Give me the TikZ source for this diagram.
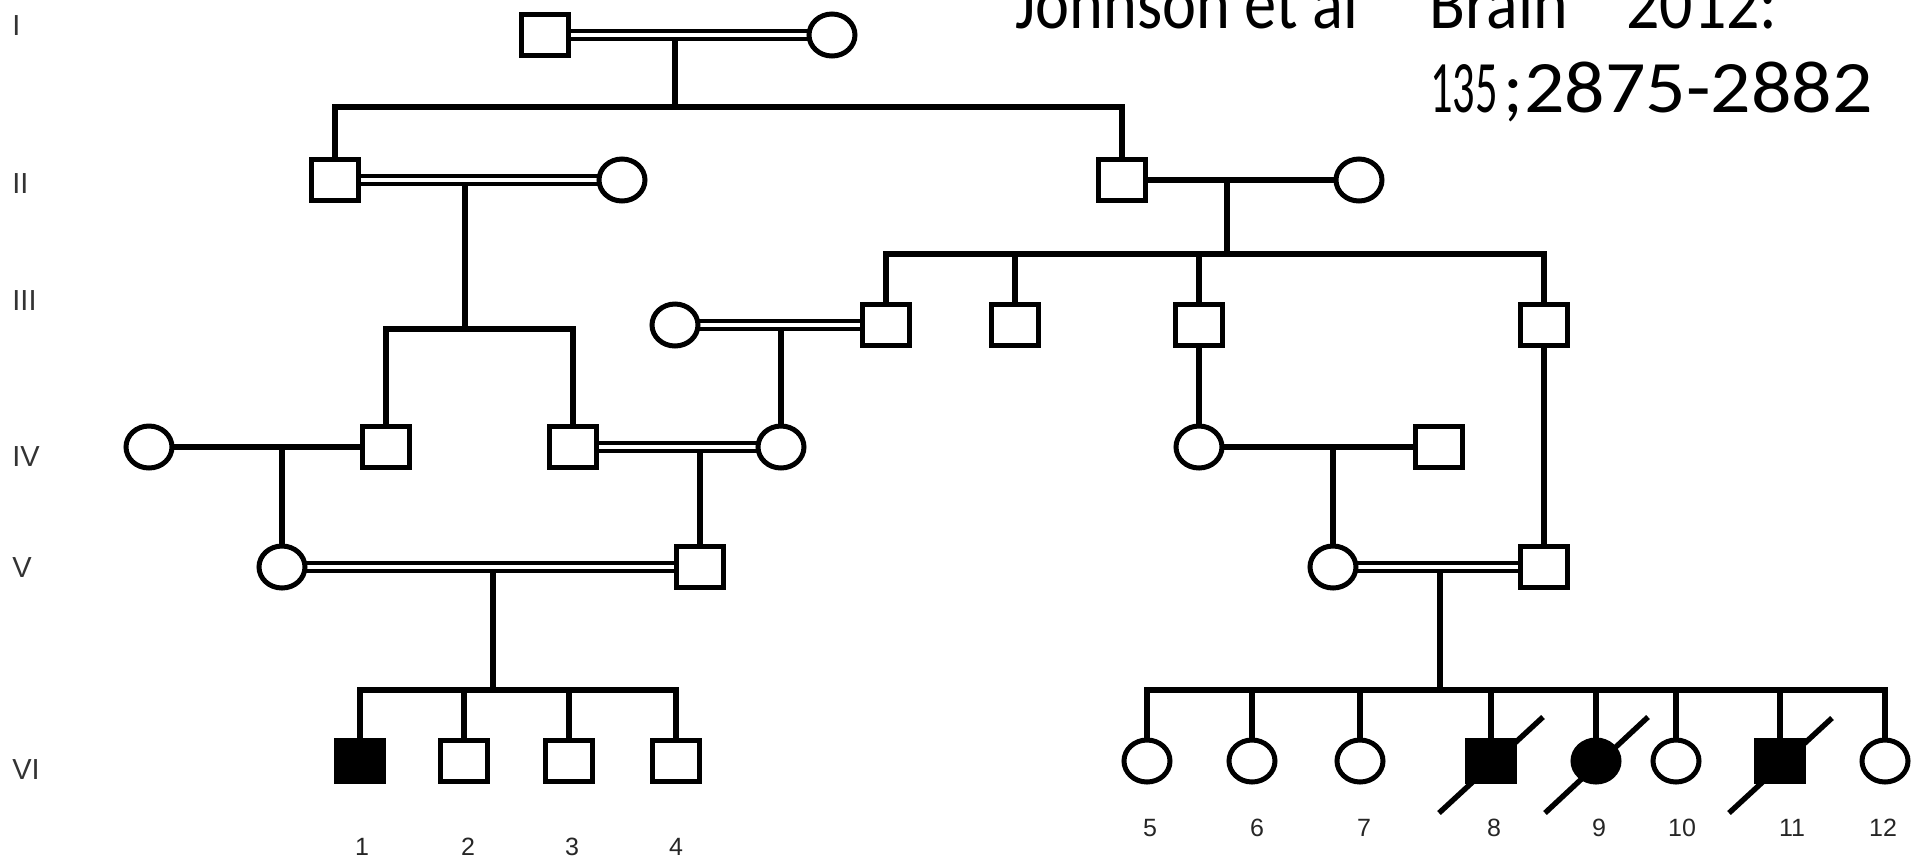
\documentclass[tikz,border=0pt]{standalone}
\usepackage{fontspec}
\setmainfont{Carlito}
\newfontfamily\labfont{Liberation Sans}
\usetikzlibrary{shapes.geometric,backgrounds}
\begin{document}
\begin{tikzpicture}[x=0.5pt,y=-0.5pt,
  sq/.style={draw, fill=white, line width=2.5pt, minimum width=23.5pt, minimum height=20.5pt, inner sep=0pt, outer sep=0pt},
  ci/.style={draw, fill=white, ellipse, line width=2.5pt, minimum width=23pt, minimum height=21pt, inner sep=0pt, outer sep=0pt},
  aff/.style={fill=black},
  lnk/.style={line width=3pt},
  cons/.style={line width=2.3pt, double=white, double distance=1.6pt},
  dead/.style={line width=2.7pt},
  genlab/.style={font=\labfont\fontsize{14.5}{16}\selectfont, text=black!80, anchor=west, inner sep=0pt},
  idlab/.style={font=\labfont\fontsize{12.5}{14}\selectfont, text=black!85, inner sep=0pt},
  cite/.style={font=\fontsize{37}{44}\selectfont, anchor=base west, inner sep=0pt}
]
\useasboundingbox (0,0) rectangle (1919,864);

% generation labels
\node[genlab] (gI) at (12,26) {I};
\node[genlab] (gII) at (12,184) {II};
\node[genlab] (gIII) at (12,301) {III};
\node[genlab] (gIV) at (12,457) {IV};
\node[genlab] (gV) at (12,568) {V};
\node[genlab] (gVI) at (12,770) {VI};

% citation
\node[cite] (c1) at (1015,28) {\scalebox{0.87}[1]{Johnson et al}};
\node[cite] (c2) at (1429,28) {\scalebox{0.89}[1]{Brain}};
\node[cite] (c3) at (1626,28) {\scalebox{0.89}[1]{2012:}};
\node[cite] (c4) at (1430,112) {\scalebox{0.6}[1]{135}};
\node[cite] (c5) at (1503,112) {;};
\node[cite] (c6) at (1524,112) {\scalebox{1.08}[1]{2875-2882}};

% generation I
\node[sq] (I1) at (545,35) {};
\node[ci] (I2) at (832,35) {};
% generation II
\node[sq] (IIa) at (335,180) {};
\node[ci] (IIb) at (622,180) {};
\node[sq] (IIc) at (1122,180) {};
\node[ci] (IId) at (1359,180) {};
% generation III
\node[ci] (IIIa) at (675,325) {};
\node[sq] (IIIb) at (886,325) {};
\node[sq] (IIIc) at (1015,325) {};
\node[sq] (IIId) at (1199,325) {};
\node[sq] (IIIe) at (1544,325) {};
% generation IV
\node[ci] (IVe) at (149,447) {};
\node[sq] (IVa) at (386,447) {};
\node[sq] (IVb) at (573,447) {};
\node[ci] (IVc) at (781,447) {};
\node[ci] (IVd) at (1199,447) {};
\node[sq] (IVf) at (1439,447) {};
% generation V
\node[ci] (Va) at (282,567) {};
\node[sq] (Vb) at (700,567) {};
\node[ci] (Vc) at (1333,567) {};
\node[sq] (Vd) at (1544,567) {};
% generation VI
\node[sq,aff] (s1) at (360,761) {};
\node[sq] (s2) at (464,761) {};
\node[sq] (s3) at (569,761) {};
\node[sq] (s4) at (676,761) {};
\node[ci] (c5n) at (1147,761) {};
\node[ci] (c6n) at (1252,761) {};
\node[ci] (c7n) at (1360,761) {};
\node[sq,aff] (s8) at (1491,761) {};
\node[ci,aff] (c9n) at (1596,761) {};
\node[ci] (c10n) at (1676,761) {};
\node[sq,aff] (s11) at (1780,761) {};
\node[ci] (c12n) at (1885,761) {};

% individual numbers
\node[idlab] (n1) at (362,847) {1};
\node[idlab] (n2) at (468,847) {2};
\node[idlab] (n3) at (572,847) {3};
\node[idlab] (n4) at (676,847) {4};
\node[idlab] (n5) at (1150,828) {5};
\node[idlab] (n6) at (1257,828) {6};
\node[idlab] (n7) at (1364,828) {7};
\node[idlab] (n8) at (1494,828) {8};
\node[idlab] (n9) at (1599,828) {9};
\node[idlab] (n10) at (1682,828) {10};
\node[idlab] (n11) at (1792,828) {11};
\node[idlab] (n12) at (1883,828) {12};

% junction coordinates
\coordinate (jI) at (675,35);   \coordinate (bI) at (675,107);
\coordinate (jIIL) at (465,180); \coordinate (bIIL) at (465,329);
\coordinate (jIIR) at (1227,180); \coordinate (bIIR) at (1227,254);
\coordinate (jIII) at (781,325);
\coordinate (jIVL) at (282,447);
\coordinate (jIVM) at (700,447);
\coordinate (jIVR) at (1333,447);
\coordinate (jVL) at (493,567); \coordinate (bVL) at (493,690);
\coordinate (jVR) at (1440,567); \coordinate (bVR) at (1440,690);

\begin{pgfonlayer}{background}
\fill[white] (0,0) rectangle (1919,864);
% descent lines
\draw[lnk] (jI) -- (bI);
\draw[lnk] (jIIL) -- (bIIL);
\draw[lnk] (jIIR) -- (bIIR);
\draw[lnk] (jIII) -- (IVc.north);
\draw[lnk] (jIVL) -- (Va.north);
\draw[lnk] (jIVM) -- (Vb.north);
\draw[lnk] (jIVR) -- (Vc.north);
\draw[lnk] (jVL) -- (bVL);
\draw[lnk] (jVR) -- (bVR);
\draw[lnk] (IIId.south) -- (IVd.north);
\draw[lnk] (IIIe.south) -- (Vd.north);
% sibship lines
\draw[lnk] (IIa.north) |- (bI) -| (IIc.north);
\draw[lnk] (IVa.north) |- (bIIL) -| (IVb.north);
\draw[lnk] (IIIb.north) |- (bIIR) -| (IIIe.north);
\draw[lnk] (IIIc.north) -- (IIIc.north |- bIIR);
\draw[lnk] (IIId.north) -- (IIId.north |- bIIR);
\draw[lnk] (s1.north) |- (bVL) -| (s4.north);
\draw[lnk] (s2.north) -- (s2.north |- bVL);
\draw[lnk] (s3.north) -- (s3.north |- bVL);
\draw[lnk] (c5n.north) |- (bVR) -| (c12n.north);
\foreach \k in {c6n,c7n,s8,c9n,c10n,s11}
  \draw[lnk] (\k.north) -- (\k.north |- bVR);
% couple lines
\draw[lnk] (IIc.east) -- (IId.west);
\draw[lnk] (IVe.east) -- (IVa.west);
\draw[lnk] (IVd.east) -- (IVf.west);
\draw[cons] (I1.east) -- (I2.west);
\draw[cons] (IIa.east) -- (IIb.west);
\draw[cons] (IIIa.east) -- (IIIb.west);
\draw[cons] (IVb.east) -- (IVc.west);
\draw[cons] (Va.east) -- (Vb.west);
\draw[cons] (Vc.east) -- (Vd.west);
\end{pgfonlayer}

% deceased slashes
\draw[dead] (s8.center) ++(-52,52) -- ++(104,-96);
\draw[dead] (c9n.center) ++(-51,52) -- ++(103,-96);
\draw[dead] (s11.center) ++(-51,52) -- ++(103,-95);
\end{tikzpicture}
\end{document}
